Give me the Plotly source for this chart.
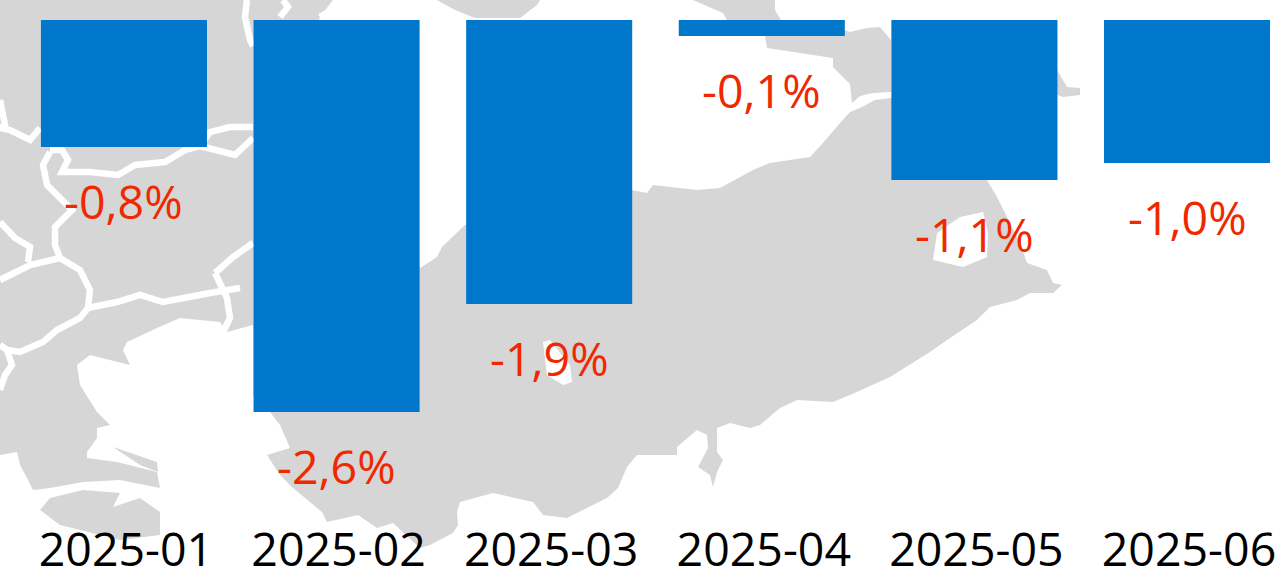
import plotly.graph_objects as go

W, H = 1281, 571

# Chart data
months = ["2025-01", "2025-02", "2025-03", "2025-04", "2025-05", "2025-06"]
values = [-0.842, -2.600, -1.883, -0.106, -1.061, -0.948]
labels = ["-0,8%", "-2,6%", "-1,9%", "-0,1%", "-1,1%", "-1,0%"]

# Decorative background map, traced in image pixels
land = [(0,0),(333,0),(320,17),(319,20),(420,268),(437,257),(442,247),(465,225),(632,190),(647,193),(653,185),
        (697,190),(720,188),(753,170),(770,163),(810,157),(823,143),(840,123),(850,112),(860,108),(875,100),(891,98),
        (987,180),(997,197),(1020,243),(1027,263),(1047,270),(1053,283),(1062,285),(1053,293),(1030,293),(1017,300),
        (990,307),(977,320),(950,338),(930,352),(890,377),(850,395),(833,402),(797,400),(780,408),(760,425),(750,428),
        (730,423),(717,428),(717,452),(723,460),(717,472),(713,487),(710,475),(698,467),(708,448),(707,435),(697,430),
        (677,447),(677,455),(637,455),(627,467),(618,488),(607,498),(567,518),(543,515),(533,502),(493,493),(460,502),
        (457,512),(458,525),(453,533),(430,545),(420,548),(393,523),(377,528),(358,515),(327,522),(322,512),(293,488),
        (280,475),(267,455),(290,448),(280,425),(270,412),(253,395),(253,325),(227,332),(220,322),(180,318),(157,328),
        (127,342),(123,350),(130,365),(90,355),(77,365),(80,385),(97,412),(110,425),(97,428),(97,438),(87,452),(87,458),
        (117,462),(157,472),(160,488),(120,480),(83,482),(50,488),(33,490),(27,478),(20,465),(17,452),(0,455)]
north_east = [(765,36),(767,48),(833,58),(833,67),(850,84),(852,103),(860,96),(873,93),(891,92),(891,40),(880,27),
              (867,28),(850,32),(845,30)]
top_a = [(693,0),(723,13),(728,22),(782,22),(775,10),(775,0)]
top_b = [(437,0),(455,10),(475,18),(520,18),(537,5),(540,0)]
cape = [(1057,70),(1067,87),(1080,88),(1080,95),(1063,97),(1050,92)]
finger = [(113,447),(157,462),(158,472),(140,465)]
south = [(40,510),(50,498),(83,490),(120,493),(113,507),(140,498),(160,512),(160,535),(120,540),(60,525)]
grey_parts = [land, north_east, top_a, top_b, cape, finger, south]

lake_a = [(933,260),(937,233),(960,217),(983,212),(988,233),(987,257),(963,267)]
lake_b = [(543,342),(550,340),(570,365),(572,382),(563,385),(547,375)]
white_parts = [lake_a, lake_b]

borders = [
    [(0,128),(10,130),(30,140),(40,128)],
    [(50,150),(62,150),(68,160),(62,172),(90,172),(118,175),(135,165),(165,162),(185,150),(200,146),(210,132),(230,127),(253,127)],
    [(200,146),(235,155),(253,138)],
    [(50,152),(43,165),(47,185),(60,198),(72,210),(55,227),(55,245),(60,258),(80,270),(90,290),(88,308)],
    [(0,100),(5,125),(0,128)],
    [(60,258),(30,265),(0,280)],
    [(0,222),(15,238),(30,247),(28,262)],
    [(88,308),(80,318),(57,330),(43,342),(20,352),(7,350),(0,345)],
    [(7,350),(12,365),(5,375),(0,390)],
    [(88,308),(117,302),(140,295),(163,302),(210,293),(240,288)],
    [(215,273),(233,257),(253,243)],
    [(215,273),(227,298),(230,318),(223,332)],
    [(247,0),(245,17),(250,40),(253,46)],
    [(283,0),(288,7),(280,17)],
    [(320,17),(328,12),(335,5)],
]

def path(points, close=True):
    text = " ".join(("M" if i == 0 else "L") + f"{x / W:.5f},{1 - y / H:.5f}" for i, (x, y) in enumerate(points))
    return text + (" Z" if close else "")

shapes = []
for part in grey_parts:
    shapes.append(dict(type="path", path=path(part), xref="paper", yref="paper", layer="below",
                       fillcolor="#D6D6D6", line=dict(width=0)))
for part in white_parts:
    shapes.append(dict(type="path", path=path(part), xref="paper", yref="paper", layer="below",
                       fillcolor="#FFFFFF", line=dict(width=0)))
for line in borders:
    shapes.append(dict(type="path", path=path(line, close=False), xref="paper", yref="paper", layer="below",
                       line=dict(color="#FFFFFF", width=6.5)))

fig = go.Figure(go.Bar(x=months, y=values, marker=dict(color="#0177CC", line=dict(width=0)), hoverinfo="skip"))

annotations = [dict(x=m, y=v, text=t, showarrow=False, yshift=-54, xanchor="center", yanchor="middle",
                    font=dict(family="Open Sans", size=46.5, color="#F02800"))
               for m, v, t in zip(months, values, labels)]

fig.update_layout(
    template="none",
    width=W, height=H, margin=dict(l=0, r=0, t=0, b=0, pad=0, autoexpand=False),
    paper_bgcolor="#FFFFFF", plot_bgcolor="rgba(0,0,0,0)",
    showlegend=False, bargap=0.219, shapes=shapes, annotations=annotations,
    font=dict(family="Open Sans"),
    xaxis=dict(type="category", range=[-0.583, 5.442], automargin=False, showgrid=False, zeroline=False,
               showline=False, ticks="", ticklabelshift=2,
               tickfont=dict(family="Open Sans", size=46.5, color="#000000")),
    yaxis=dict(domain=[53 / H, 1], range=[-3.3024, 0.1326], automargin=False, visible=False, showgrid=False,
               zeroline=False),
)

fig.write_html("out.html", config=dict(displayModeBar=False),
               post_script="document.body.style.margin='0';document.documentElement.style.overflow='hidden';")
